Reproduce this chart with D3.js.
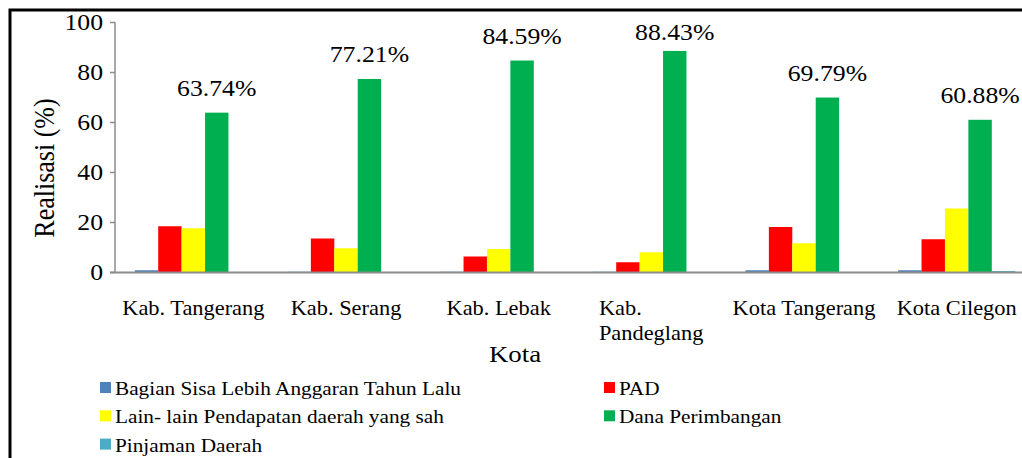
<html>
    <head>
        <meta charset="utf-8">
        <title>Realisasi per Kota</title>
        <style type="text/css">
            body { margin: 0; background: #fff; }
            text { font-family: "Liberation Serif", "Times New Roman", serif; fill: #000; }
        </style>
        <script src="https://d3js.org/d3.v7.min.js"></script>
    </head>
    <body>
    	<svg width="1022" height="458"></svg>
    	<script>
		// data
		var kota = ["Kab. Tangerang", "Kab. Serang", "Kab. Lebak", "Kab. Pandeglang", "Kota Tangerang", "Kota Cilegon"];
		var seriesNames = ["Bagian Sisa Lebih Anggaran Tahun Lalu", "PAD", "Lain- lain Pendapatan daerah yang sah", "Dana Perimbangan", "Pinjaman Daerah"];
		var silpa = [0.7, 0.1, 0.1, 0.1, 0.7, 0.7];
		var pad = [18.3, 13.4, 6.2, 3.9, 18.0, 13.1];
		var lainLain = [17.5, 9.5, 9.2, 7.9, 11.5, 25.4];
		var danaPerimbangan = [63.74, 77.21, 84.59, 88.43, 69.79, 60.88];
		var pinjaman = [0, 0, 0, 0, 0, 0.4];
		var valueLabels = ["63.74%", "77.21%", "84.59%", "88.43%", "69.79%", "60.88%"];
		var yTicks = [0, 20, 40, 60, 80, 100];
		var seriesColors = ["#4F81BD", "#FF0000", "#FFFF00", "#00B050", "#4BACC6"];

		var series = [silpa, pad, lainLain, danaPerimbangan, pinjaman];
		var SX = 1.12; // the reference is a bit stretched sideways

		var svg = d3.select("svg");

		// frame
		svg.append("rect")
			.attr("x", 10).attr("y", 10)
			.attr("width", 1100).attr("height", 600)
			.attr("fill", "none")
			.attr("stroke", "#000")
			.attr("stroke-width", 3);

		var xScale = d3.scaleBand()
					.domain(kota)
					.range([117, 1033]);
		var gap = xScale.step() * 0.233;
		var xScaleIn = d3.scaleBand()
					.domain(d3.range(series.length))
					.range([gap / 2, xScale.step() - gap / 2]);
		var yScale = d3.scaleLinear()
					.domain([0, 100])
					.range([272, 22]);

		function label(parent, str, x, y, size, anchor, rot) {
			return parent.append("text")
				.attr("transform", `translate(${x},${y}) scale(${SX},1)` + (rot ? ` rotate(${rot})` : ""))
				.attr("text-anchor", anchor || "start")
				.style("font-size", size + "px")
				.text(str);
		}

		// y axis
		var yAxis = svg.append("g")
			.attr("transform", "translate(115,0)")
			.call(d3.axisLeft(yScale).tickValues(yTicks).tickSize(5).tickFormat(""));
		yAxis.selectAll("line, path").attr("stroke", "#8c8c8c").attr("stroke-width", 1.5);
		yAxis.select(".domain").attr("d", "M0," + yScale(100) + "V" + yScale(0));

		yTicks.forEach(function(t) {
			label(svg, t, 103, yScale(t) + 8, 23, "end");
		});

		// bars
		var groups = svg.selectAll("g.groups")
			.data(kota)
			.enter()
			.append("g")
			.attr("class", "groups")
				.attr("transform", d => `translate(${xScale(d)},0)`);

		groups.selectAll("rect")
			.data(function(d, i) {
				return series.map(function(s, k) {
					return {key: k, value: s[i]};
				});
			})
			.enter()
			.append("rect")
				.attr("x", d => xScaleIn(d.key))
				.attr("y", d => yScale(d.value))
				.attr("width", xScaleIn.bandwidth())
				.attr("height", d => yScale(0) - yScale(d.value))
				.attr("fill", d => seriesColors[d.key]);

		// x axis baseline
		svg.append("line")
			.attr("x1", 110).attr("x2", 1022)
			.attr("y1", yScale(0) + 0.5).attr("y2", yScale(0) + 0.5)
			.attr("stroke", "#8c8c8c")
			.attr("stroke-width", 2);

		// value labels above Dana Perimbangan
		valueLabels.forEach(function(v, i) {
			var cx = xScale(kota[i]) + xScaleIn(3) + xScaleIn.bandwidth() / 2;
			var by = Math.max(yScale(danaPerimbangan[i]) - 17, 40);
			label(svg, v, cx, by, 23, "middle");
		});

		// category labels
		kota.forEach(function(k, i) {
			var cx = xScale(k) + xScale.bandwidth() / 2;
			var t = label(svg, k, cx, 315, 20, "middle");
			if (t.node().getBBox().width * SX > 145) {
				t.remove();
				var parts = [k.slice(0, k.lastIndexOf(" ")), k.slice(k.lastIndexOf(" ") + 1)];
				var tmp = label(svg, parts[1], 0, 0, 20, "start");
				var w = tmp.node().getBBox().width * SX;
				tmp.remove();
				parts.forEach(function(p, j) {
					label(svg, p, cx - w / 2, 315 + j * 25, 20, "start");
				});
			}
		});

		// axis titles
		label(svg, "Realisasi (%)", 54, 168, 26, "middle", -90);
		label(svg, "Kota", 515, 362, 24, "middle");

		// legend
		var legend = svg.append("g")
			.attr("class", "legend")
			.selectAll("g")
			.data(seriesNames)
			.enter()
			.append("g")
				.attr("transform", (d, i) => `translate(${i % 2 ? 604 : 100},${388 + Math.floor(i / 2) * 28.3})`);

		legend.append("rect")
			.attr("y", -6)
			.attr("width", 11)
			.attr("height", 11)
			.attr("fill", (d, i) => seriesColors[i]);

		legend.each(function(d) {
			label(d3.select(this), d, 15, 7, 19, "start");
		});
    	</script>
  </body>
</html>
